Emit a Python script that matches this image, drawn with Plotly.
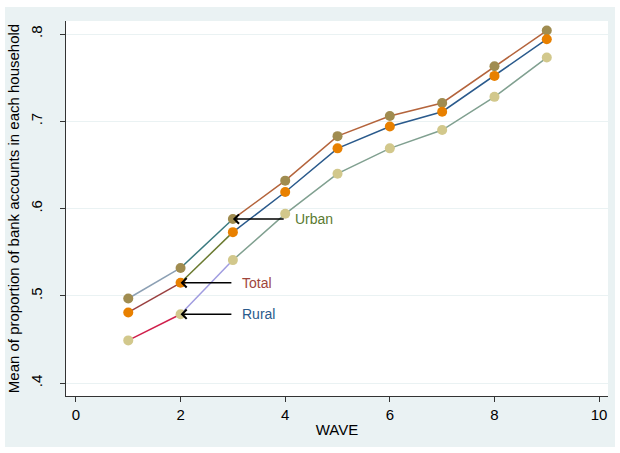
import plotly.graph_objects as go

waves = [1, 2, 3, 4, 5, 6, 7, 8, 9]
urban = [0.497, 0.532, 0.588, 0.632, 0.683, 0.706, 0.721, 0.763, 0.804]
total = [0.481, 0.515, 0.573, 0.619, 0.669, 0.694, 0.711, 0.752, 0.794]
rural = [0.449, 0.479, 0.541, 0.594, 0.640, 0.669, 0.690, 0.728, 0.773]

y_ticks = [0.4, 0.5, 0.6, 0.7, 0.8]
y_ticktext = [".4", ".5", ".6", ".7", ".8"]
x_ticks = [0, 2, 4, 6, 8, 10]

series = [
    ("Urban", urban, "#A08C50", ["#8CA0B4", "#3A7A80", "#B4643C"]),
    ("Total", total, "#E88000", ["#9A4040", "#6A7A30", "#2A5A8C"]),
    ("Rural", rural, "#D2C88C", ["#D0204C", "#A09CE0", "#80A090"]),
]
seg_ranges = [(0, 2), (1, 3), (2, 9)]

fig = go.Figure()
for name, vals, mcol, segcols in series:
    for (a, b), c in zip(seg_ranges, segcols):
        fig.add_trace(go.Scatter(x=waves[a:b], y=vals[a:b], mode="lines",
                                 line=dict(color=c, width=1.5),
                                 showlegend=False, hoverinfo="skip"))
for name, vals, mcol, segcols in series:
    fig.add_trace(go.Scatter(x=waves, y=vals, mode="markers", name=name,
                             marker=dict(color=mcol, size=10),
                             showlegend=False))

font = "Liberation Sans, Arial, sans-serif"
arrows = [
    ("Urban", 3, urban[2], 4.0, 4.14, "#5A7A30"),
    ("Total", 2, total[1], 3.0, 3.14, "#A0463C"),
    ("Rural", 2, rural[1], 3.0, 3.14, "#2A5A8C"),
]
for label, hx, hy, tx, textx, col in arrows:
    fig.add_annotation(x=hx, y=hy, ax=tx, ay=hy, xref="x", yref="y",
                       axref="x", ayref="y", text="", showarrow=True,
                       arrowhead=4, arrowsize=1.2, arrowwidth=1.5,
                       arrowcolor="black")
    fig.add_annotation(x=textx, y=hy, xref="x", yref="y", text=label,
                       showarrow=False, xanchor="left", yanchor="middle",
                       font=dict(family=font, size=14, color=col))

fig.add_shape(type="rect", xref="paper", yref="paper",
              x0=-0.1125, x1=1.0129, y0=-0.136, y1=1.0373,
              fillcolor="#EAF2F3", line=dict(width=0), layer="below")
fig.add_shape(type="rect", xref="paper", yref="paper",
              x0=0, x1=1, y0=0, y1=1,
              fillcolor="white", line=dict(width=0), layer="below")

fig.update_layout(
    width=620, height=453,
    margin=dict(l=66, r=12, t=21, b=57),
    paper_bgcolor="white", plot_bgcolor="rgba(0,0,0,0)",
    font=dict(family=font, size=15, color="black"),
    xaxis=dict(range=[-0.19, 10.17], tickvals=x_ticks, showgrid=False,
               zeroline=False, showline=True, linecolor="#333333", linewidth=1,
               ticks="outside", ticklen=5, tickcolor="#333333",
               tickfont=dict(size=15), automargin=False,
               title=dict(text="WAVE", font=dict(size=15), standoff=2)),
    yaxis=dict(range=[0.3853, 0.8149], tickvals=y_ticks, ticktext=y_ticktext,
               tickangle=-90, showgrid=True, gridcolor="#EAF2F3", gridwidth=1,
               zeroline=False, showline=True, linecolor="#333333", linewidth=1,
               ticks="outside", ticklen=5, tickcolor="#333333",
               tickfont=dict(size=15), automargin=False, ticklabelstandoff=12,
               title=dict(text="Mean of proportion of bank accounts in each household",
                          font=dict(size=15), standoff=4)),
)

fig.write_html("out.html", config={"displayModeBar": False},
               post_script="document.body.style.margin='0';document.body.style.padding='0';")
